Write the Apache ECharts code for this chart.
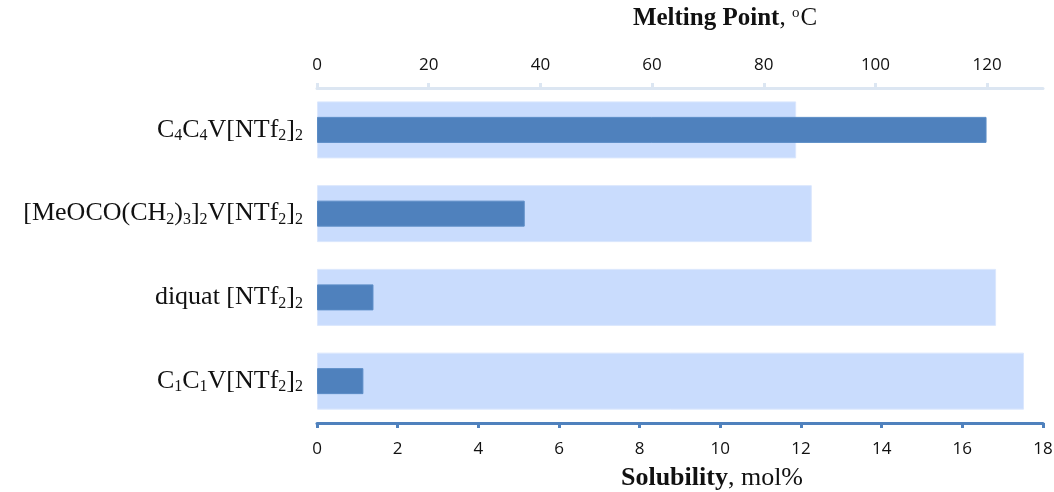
<!DOCTYPE html>
<html>
<head>
<meta charset="utf-8">
<script src="https://cdn.jsdelivr.net/npm/echarts@6/dist/echarts.min.js"></script>
<style>
  html, body { margin: 0; padding: 0; background: #fff; }
  #chart { width: 1054px; height: 492px; }
</style>
</head>
<body>
<div id="chart"></div>
<script>
// 化合物（数字均为下标）
const categories = ['C4C4V[NTf2]2', '[MeOCO(CH2)3]2V[NTf2]2', 'diquat [NTf2]2', 'C1C1V[NTf2]2'];
// 熔点 °C（上轴，浅色宽条）
const meltingPoint = [85.8, 88.6, 121.6, 126.6];
// 溶解度 mol%（下轴，深色窄条）
const solubility = [16.6, 5.15, 1.4, 1.15];
const mpTicks = { min: 0, max: 130, interval: 20 };
const solTicks = { min: 0, max: 18, interval: 2 };

const chart = echarts.init(document.getElementById('chart'), null, { renderer: 'canvas' });

const tickFont = { fontFamily: 'Open Sans', fontSize: 17, color: '#111' };
const serif = 'Liberation Serif';

function subLabel(name) {
  return name.replace(/(\d)/g, '{s|$1}');
}

chart.setOption({
  backgroundColor: '#fff',
  animation: false,
  grid: { left: 317, right: 11, top: 88, bottom: 69, containLabel: false, outerBoundsMode: 'none' },
  xAxis: [
    {
      type: 'value', position: 'bottom',
      min: solTicks.min, max: solTicks.max, interval: solTicks.interval,
      name: '{b|Solubility}, mol%',
      nameLocation: 'middle', nameGap: 42,
      nameTextStyle: {
        fontFamily: serif, fontSize: 26, color: '#111', padding: [0, 0, 0, 64],
        rich: { b: { fontFamily: serif, fontSize: 26, fontWeight: 'bold', color: '#111' } }
      },
      axisLine: { show: true, lineStyle: { color: '#4f81bd', width: 3 } },
      axisTick: { show: true, length: 5, lineStyle: { color: '#4f81bd', width: 3 } },
      axisLabel: { ...tickFont, margin: 18 },
      splitLine: { show: false }
    },
    {
      type: 'value', position: 'top',
      min: mpTicks.min, max: mpTicks.max, interval: mpTicks.interval,
      name: '{b|Melting Point}, {sup|o}C',
      nameLocation: 'middle', nameGap: 57,
      nameTextStyle: {
        fontFamily: serif, fontSize: 25, color: '#111', padding: [0, 0, 0, 90],
        rich: {
          b: { fontFamily: serif, fontSize: 25, fontWeight: 'bold', color: '#111' },
          sup: { fontFamily: serif, fontSize: 15, color: '#111', verticalAlign: 'top', padding: [0, 1, 9, 0] }
        }
      },
      axisLine: { show: true, lineStyle: { color: '#dce6f2', width: 3 } },
      axisTick: { show: true, length: 5, lineStyle: { color: '#dce6f2', width: 3 } },
      axisLabel: { ...tickFont, margin: 14, showMaxLabel: false },
      splitLine: { show: false }
    }
  ],
  yAxis: [
    {
      type: 'category',
      data: categories,
      inverse: true,
      axisLine: { show: false },
      axisTick: { show: false },
      axisLabel: {
        margin: 14,
        fontFamily: serif, fontSize: 26, color: '#111',
        formatter: subLabel,
        rich: {
          s: { fontFamily: serif, fontSize: 16, color: '#111', verticalAlign: 'bottom', padding: [12, 0, 0, 0] }
        }
      }
    },
    {
      type: 'category',
      data: categories,
      inverse: true,
      show: false
    }
  ],
  series: [
    {
      name: 'Melting Point',
      type: 'bar',
      xAxisIndex: 1,
      yAxisIndex: 0,
      data: meltingPoint,
      barWidth: 57,
      itemStyle: { color: '#c9dcfd', borderColor: '#dbe7fd', borderWidth: 1 },
      silent: true
    },
    {
      name: 'Solubility',
      type: 'bar',
      xAxisIndex: 0,
      yAxisIndex: 1,
      data: solubility,
      barWidth: 26,
      itemStyle: { color: '#4f81bd', borderColor: '#5b8cc6', borderWidth: 1 },
      silent: true
    }
  ]
});

window.addEventListener('resize', () => chart.resize());
</script>
</body>
</html>
